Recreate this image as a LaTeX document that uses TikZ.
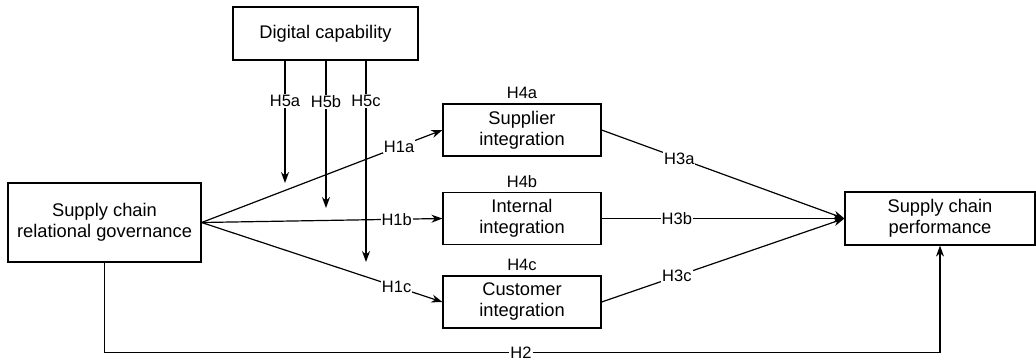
\documentclass[tikz,border=0pt]{standalone}
\usepackage{fontspec}
\setmainfont{Liberation Sans}
\usetikzlibrary{arrows.meta, positioning}

\begin{document}
\begin{tikzpicture}[x=1pt,y=-1pt,->,>={Stealth[length=11pt,width=8pt]},line width=1.2pt,
  main node/.style={draw,rectangle,align=center,inner sep=0pt,font=\fontsize{18.3}{21}\selectfont},
  int node/.style={main node,minimum width=158pt,minimum height=52pt},
  hyp/.style={fill=white,inner sep=1pt,font=\fontsize{16.5}{18}\selectfont}]
  \useasboundingbox (0,0) rectangle (1036,360);
  \node[main node,minimum width=185pt,minimum height=53pt] (dc) at (325.5,33.5) {Digital capability};
  \node[main node,minimum width=193pt,minimum height=79pt] (scrg) at (104.5,222.5) {Supply chain\\relational governance};
  \node[int node] (sup) at (522,130) {Supplier\\integration};
  \node[int node] (intg) at (522,218.5) {Internal\\integration};
  \node[int node] (cus) at (522,302) {Customer\\integration};
  \node[main node,minimum width=190pt,minimum height=53pt] (perf) at (940,218.5) {Supply chain\\performance};
  \node[hyp] (h4a) [above=3pt of sup] {H4a};
  \node[hyp] (h4b) [above=3pt of intg] {H4b};
  \node[hyp] (h4c) [above=3pt of cus] {H4c};
  \coordinate (m5a) at (285,183);
  \coordinate (m5b) at (326,208);
  \coordinate (m5c) at (366,262);
  \coordinate (h2) at (521,352.5);
  \path (scrg.east) edge node[hyp,pos=.82] (h1a) {H1a} (sup.west)
                    edge node[hyp,pos=.81] (h1b) {H1b} (intg.west)
                    edge node[hyp,pos=.81] (h1c) {H1c} (cus.west)
    (sup.east) edge node[hyp,pos=.32] (h3a) {H3a} (perf.west)
    (intg.east) edge node[hyp,pos=.31] (h3b) {H3b} (perf.west)
    (cus.east) edge node[hyp,pos=.31] (h3c) {H3c} (perf.west)
    (dc.south -| m5a) edge node[hyp,pos=.33] (h5a) {H5a} (m5a)
    (dc.south -| m5b) edge node[hyp,pos=.28] (h5b) {H5b} (m5b)
    (dc.south -| m5c) edge node[hyp,pos=.20] (h5c) {H5c} (m5c);
  \draw (scrg.south) |- (h2) node[hyp] (h2l) {H2} -| (perf.south);
\end{tikzpicture}
\end{document}
